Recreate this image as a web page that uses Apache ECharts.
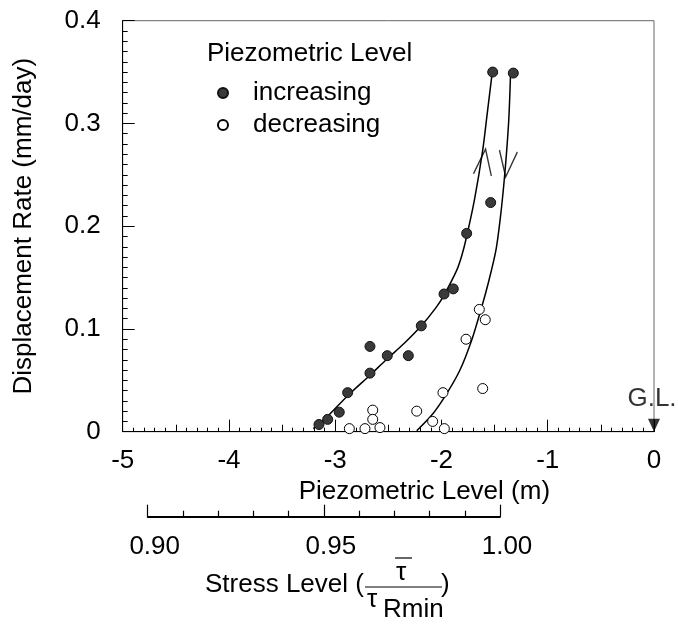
<!DOCTYPE html>
<html><head><meta charset="utf-8">
<script src="https://cdn.jsdelivr.net/npm/echarts@6/dist/echarts.min.js"></script>
<style>html,body{margin:0;padding:0;background:#fff}#c{width:678px;height:625px}</style>
</head><body><div id="c"></div>
<script>
// Piezometric level (m) vs displacement rate (mm/day)
const increasing = [[-1.518,0.350],[-1.324,0.349],[-1.537,0.223],[-1.763,0.193],[-1.889,0.139],[-1.976,0.134],[-2.190,0.103],[-2.312,0.074],[-2.510,0.074],[-2.673,0.083],[-2.673,0.057],[-2.883,0.038],[-2.962,0.019],[-3.071,0.012],[-3.153,0.007]];
const decreasing = [[-1.644,0.119],[-1.588,0.109],[-1.769,0.090],[-1.986,0.038],[-1.612,0.042],[-2.233,0.020],[-2.083,0.010],[-1.973,0.003],[-2.647,0.021],[-2.647,0.012],[-2.579,0.004],[-2.720,0.003],[-2.867,0.003]];
const fitIncreasing = [[-3.206,0.003],[-3.071,0.015],[-2.883,0.035],[-2.673,0.055],[-2.510,0.071],[-2.350,0.086],[-2.190,0.103],[-2.050,0.121],[-1.976,0.133],[-1.857,0.157],[-1.810,0.171],[-1.763,0.190],[-1.689,0.226],[-1.612,0.274],[-1.569,0.310],[-1.522,0.350]];
const fitDecreasing = [[-2.233,0.001],[-2.077,0.018],[-1.951,0.037],[-1.826,0.060],[-1.716,0.089],[-1.628,0.119],[-1.559,0.145],[-1.487,0.177],[-1.445,0.209],[-1.412,0.242],[-1.386,0.274],[-1.365,0.307],[-1.349,0.352]];
const arrowUp = [[-1.600,0.2625]];
const arrowDown = [[-1.383,0.2605]];
const groundLevel = [[0,0]];
const piezoMin = -5, piezoMax = 0;
const rateMin = 0, rateMax = 0.4;
const stressMin = 0.90, stressMax = 1.00;

const FONT = 'Liberation Sans, Arial, sans-serif';
const FS = 26;
const chart = echarts.init(document.getElementById('c'), null, {renderer: 'canvas'});
chart.setOption({
  animation: false,
  backgroundColor: '#fff',
  textStyle: {fontFamily: FONT},
  title: {text: 'Piezometric Level', left: 202, top: 36, textStyle: {fontFamily: FONT, fontSize: FS, fontWeight: 'normal', color: '#000'}},
  legend: {
    data: ['increasing', 'decreasing'], orient: 'vertical', left: 212, top: 75,
    itemWidth: 50, itemHeight: 10, itemGap: 6,
    textStyle: {fontFamily: FONT, fontSize: FS, color: '#000'}
  },
  grid: [
    {left: 122.7, right: 24, top: 20.7, bottom: 193.3, show: true, borderColor: '#666', borderWidth: 1, backgroundColor: 'transparent'},
    {left: 147.7, width: 352.3, top: 496, height: 20.7, show: false}
  ],
  xAxis: [
    {gridIndex: 0, type: 'value', min: piezoMin, max: piezoMax, interval: 1,
     name: 'Piezometric Level (m)', nameLocation: 'middle', nameGap: 41,
     nameTextStyle: {fontFamily: FONT, fontSize: FS, color: '#000', padding: [0, 0, 0, 72]},
     axisLine: {show: true, onZero: false, lineStyle: {color: '#000', width: 1}},
     axisTick: {show: true, inside: true, length: 12, lineStyle: {color: '#000'}},
     minorTick: {show: true, splitNumber: 10, length: 4, lineStyle: {color: '#000'}},
     axisLabel: {margin: 16, fontFamily: FONT, fontSize: FS, color: '#000'},
     splitLine: {show: false}},
    {gridIndex: 0, type: 'value', min: piezoMin, max: piezoMax, interval: 0.5, position: 'bottom',
     axisLine: {show: false}, axisLabel: {show: false}, splitLine: {show: false},
     axisTick: {show: true, inside: true, length: 7, lineStyle: {color: '#000'}}},
    {gridIndex: 1, type: 'value', min: stressMin, max: stressMax, interval: 0.05, position: 'bottom',
     axisLine: {show: true, onZero: false, lineStyle: {color: '#000', width: 1.8}},
     axisTick: {show: true, inside: true, length: 12, lineStyle: {color: '#000', width: 1.2}},
     minorTick: {show: true, splitNumber: 5, length: 6, lineStyle: {color: '#000', width: 1.2}},
     axisLabel: {margin: 17, fontFamily: FONT, fontSize: FS, color: '#000', padding: [0, 0, 0, 14], formatter: v => v.toFixed(2)},
     splitLine: {show: false}}
  ],
  yAxis: [
    {gridIndex: 0, type: 'value', min: rateMin, max: rateMax, interval: 0.1,
     name: 'Displacement Rate (mm/day)', nameLocation: 'middle', nameGap: 86, nameRotate: 90,
     nameTextStyle: {fontFamily: FONT, fontSize: FS, color: '#000'},
     axisLine: {show: true, onZero: false, lineStyle: {color: '#000', width: 1}},
     axisTick: {show: true, inside: true, length: 12, lineStyle: {color: '#000'}},
     minorTick: {show: true, splitNumber: 10, length: 5, lineStyle: {color: '#000'}},
     axisLabel: {margin: 22, fontFamily: FONT, fontSize: FS, color: '#000', formatter: v => v === 0 ? '0' : (+v.toFixed(2)).toString()},
     splitLine: {show: false}},
    {gridIndex: 1, type: 'value', show: false, min: 0, max: 1}
  ],
  series: [
    {name: 'fitIncreasing', type: 'line', xAxisIndex: 0, yAxisIndex: 0, data: fitIncreasing, smooth: 0.3,
     showSymbol: false, symbol: 'none', lineStyle: {color: '#000', width: 1.5}, z: 2, silent: true},
    {name: 'fitDecreasing', type: 'line', xAxisIndex: 0, yAxisIndex: 0, data: fitDecreasing, smooth: 0.3,
     showSymbol: false, symbol: 'none', lineStyle: {color: '#000', width: 1.5}, z: 2, silent: true},
    {name: 'increasing', type: 'scatter', xAxisIndex: 0, yAxisIndex: 0, data: increasing, symbol: 'circle', symbolSize: 10,
     itemStyle: {color: '#3a3a3a', borderColor: '#111', borderWidth: 1, opacity: 1}, z: 3},
    {name: 'decreasing', type: 'scatter', xAxisIndex: 0, yAxisIndex: 0, data: decreasing, symbol: 'circle', symbolSize: 10,
     itemStyle: {color: '#fff', borderColor: '#000', borderWidth: 1, opacity: 1}, z: 3},
    {name: 'arrowUp', type: 'scatter', xAxisIndex: 0, yAxisIndex: 0, data: arrowUp,
     symbol: 'path://M0,26L9,0L18,26', symbolSize: [18, 26], symbolRotate: -7,
     itemStyle: {color: 'none', borderColor: '#000', borderWidth: 1.6}, z: 4, silent: true},
    {name: 'arrowDown', type: 'scatter', xAxisIndex: 0, yAxisIndex: 0, data: arrowDown,
     symbol: 'path://M0,0L9,26L18,0', symbolSize: [18, 26], symbolRotate: -6,
     itemStyle: {color: 'none', borderColor: '#000', borderWidth: 1.6}, z: 4, silent: true},
    {name: 'G.L.', type: 'scatter', xAxisIndex: 0, yAxisIndex: 0, data: groundLevel, clip: false,
     symbol: 'triangle', symbolRotate: 180, symbolSize: [12, 13], symbolOffset: [0, -6.5],
     itemStyle: {color: '#000'}, z: 5, silent: true,
     label: {show: true, formatter: 'G.L.', position: 'top', distance: 7, offset: [-2, 0], fontFamily: FONT, fontSize: FS, color: '#000'}}
  ],
  graphic: [
    {type: 'text', left: 205, top: 572, style: {text: 'Stress Level (', font: FS + 'px ' + FONT, fill: '#000'}},
    {type: 'text', left: 441, top: 572, style: {text: ')', font: FS + 'px ' + FONT, fill: '#000'}},
    {type: 'line', shape: {x1: 365, y1: 587, x2: 442, y2: 587}, style: {stroke: '#000', lineWidth: 1}},
    {type: 'text', left: 396, top: 560, style: {text: 'τ', font: FS + 'px ' + FONT, fill: '#000'}},
    {type: 'line', shape: {x1: 395, y1: 558, x2: 412, y2: 558}, style: {stroke: '#000', lineWidth: 1.2}},
    {type: 'text', left: 367, top: 587, style: {text: 'τ', font: FS + 'px ' + FONT, fill: '#000'}},
    {type: 'text', left: 383, top: 597, style: {text: 'Rmin', font: FS + 'px ' + FONT, fill: '#000'}}
  ]
});
</script></body></html>
